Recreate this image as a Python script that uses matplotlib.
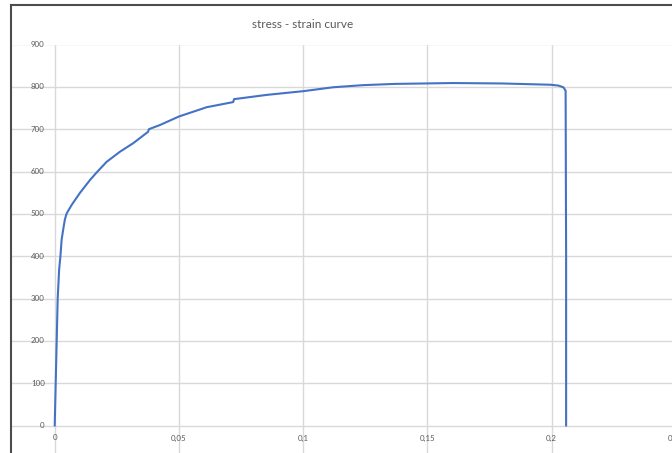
import matplotlib
matplotlib.use("Agg")
import matplotlib.pyplot as plt
from matplotlib.lines import Line2D

strain = [0, 0.0004, 0.0008, 0.0012, 0.0018, 0.0023, 0.0028, 0.0035, 0.0041, 0.0048,
          0.0068, 0.0102, 0.0142, 0.0169, 0.0209, 0.0263, 0.0316, 0.0376, 0.0379, 0.0424,
          0.05, 0.0612, 0.0718, 0.0722, 0.0853, 0.1003, 0.112, 0.124, 0.137, 0.149,
          0.16, 0.18, 0.1995, 0.2027, 0.2047, 0.2056, 0.2058, 0.2058]
stress = [0, 100, 200, 300, 370, 400, 440, 466, 487, 501,
          521, 550, 580, 598, 623, 647, 667, 694, 700, 710,
          730, 752, 764, 771, 781, 790, 799, 804, 807, 808,
          809, 808, 805, 803, 799, 791, 400, 0]

xticks = [0, 0.05, 0.1, 0.15, 0.2, 0.25]
xtick_labels = ["0", "0,05", "0,1", "0,15", "0,2", "0,25"]
yticks = [0, 100, 200, 300, 400, 500, 600, 700, 800, 900]
title = "stress - strain curve"

W, H = 672, 453
fig = plt.figure(figsize=(W / 100, H / 100), dpi=100)
fig.patch.set_facecolor("white")

# pixel geometry
x0_px, xscale = 54.7, 2485.0      # px of strain 0, px per unit strain
y0_px, yscale = 425.7, 0.42356    # px of stress 0, px per MPa
left_px, right_px = 12, 690
top_px, bot_px = 44.5, 470

xmin = (left_px - x0_px) / xscale
xmax = (right_px - x0_px) / xscale
ymax = (y0_px - top_px) / yscale
ymin = -(bot_px - y0_px) / yscale

ax = fig.add_axes([left_px / W, (H - bot_px) / H, (right_px - left_px) / W, (bot_px - top_px) / H])
ax.set_xlim(xmin, xmax)
ax.set_ylim(ymin, ymax)
for s in ax.spines.values():
    s.set_visible(False)
ax.set_xticks([])
ax.set_yticks([])

grid_c = "#d9d9d9"
for xv in xticks:
    ax.axvline(xv, color=grid_c, lw=1.0, zorder=1)
for yv in yticks:
    ax.axhline(yv, color=grid_c, lw=1.0, zorder=1)

ax.plot(strain, stress, color="#4472C4", lw=1.5, zorder=3,
        solid_joinstyle="round", solid_capstyle="round")

lab_c = "#595959"
font = "Lato"
for yv in yticks:
    ax.text(-0.0040, yv, str(yv), ha="right", va="center", fontsize=5.7,
            color=lab_c, family=font, zorder=4)
for xv, lab in zip(xticks, xtick_labels):
    ax.text(xv, -29, lab, ha="center", va="center", fontsize=5.7,
            color=lab_c, family=font, zorder=4)

fig.text(303 / W, 1 - 25 / H, title, ha="center", va="center", fontsize=8.5,
         color=lab_c, family=font)

# chart border (partially cropped)
border_c = "#4d4d4d"
fig.add_artist(Line2D([10.7 / W, 10.7 / W], [0, 1 - 5 / H], color=border_c, lw=1.5,
                      transform=fig.transFigure))
fig.add_artist(Line2D([10.7 / W, 1.0], [1 - 5 / H, 1 - 5 / H], color=border_c, lw=1.5,
                      transform=fig.transFigure))

fig.savefig("out.png", dpi=100)
